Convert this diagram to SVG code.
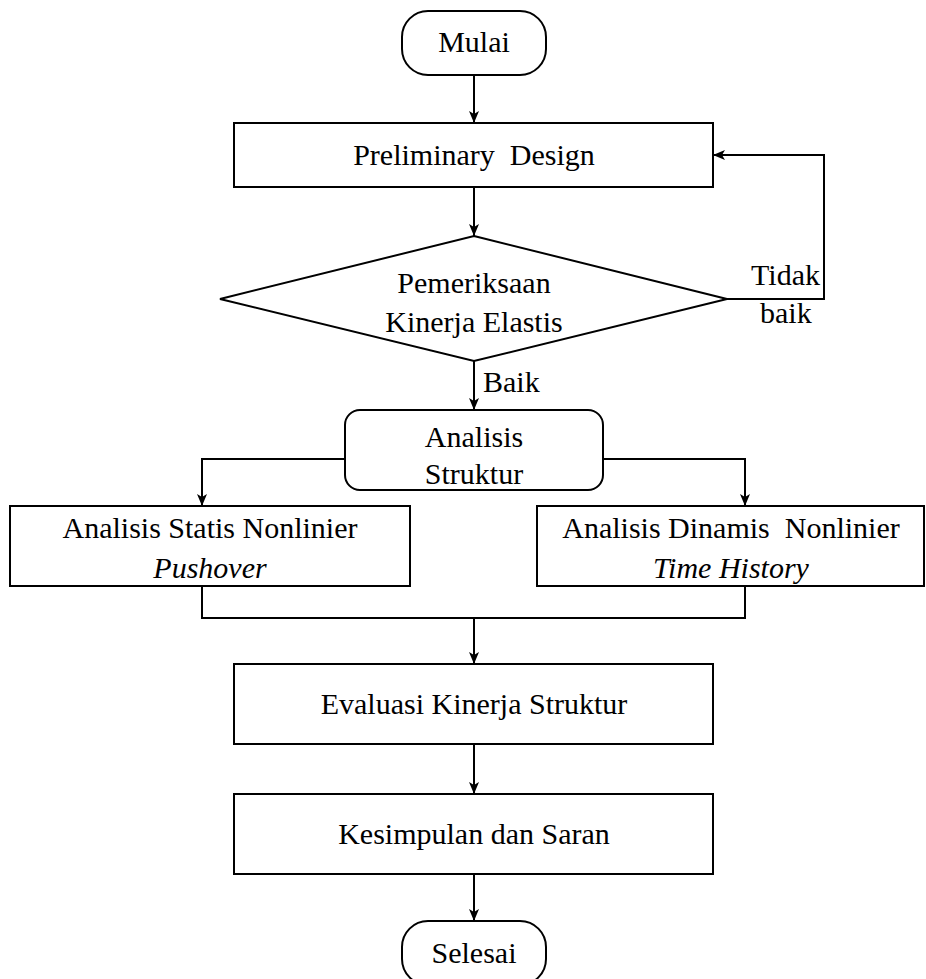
<svg xmlns="http://www.w3.org/2000/svg" width="926" height="979" viewBox="0 0 926 979">
<style>
.s{fill:#fff;stroke:#000;stroke-width:2}
.c{fill:none;stroke:#000;stroke-width:2}
.t{font-family:"Times New Roman","Liberation Serif",Tinos,serif;font-size:30px;fill:#000}
.m{text-anchor:middle}
.i{font-style:italic}
</style>
<defs>
<marker id="a" viewBox="0 0 12 10" refX="12" refY="5" markerWidth="12" markerHeight="10" markerUnits="userSpaceOnUse" orient="auto">
<path d="M0,0 L12,5 L0,10 L3,5 z" fill="#000"/>
</marker>
</defs>
<g id="connectors">
<line class="c" x1="474" y1="75" x2="474" y2="123" marker-end="url(#a)"/>
<line class="c" x1="474" y1="187" x2="474" y2="236" marker-end="url(#a)"/>
<line class="c" x1="474" y1="361" x2="474" y2="410" marker-end="url(#a)"/>
<polyline class="c" points="727,299 824,299 824,155 713,155" marker-end="url(#a)"/>
<polyline class="c" points="345,459 202,459 202,506" marker-end="url(#a)"/>
<polyline class="c" points="603,459 745,459 745,506" marker-end="url(#a)"/>
<polyline class="c" points="202,586 202,618 745,618 745,586"/>
<line class="c" x1="474" y1="618" x2="474" y2="664" marker-end="url(#a)"/>
<line class="c" x1="474" y1="744" x2="474" y2="794" marker-end="url(#a)"/>
<line class="c" x1="474" y1="874" x2="474" y2="921" marker-end="url(#a)"/>
<text class="t" x="483" y="392">Baik</text>
<text class="t" x="820" y="285" text-anchor="end">Tidak</text>
<text class="t" x="760" y="323">baik</text>
</g>
<g id="mulai">
<rect class="s" x="402" y="11" width="144" height="64" rx="26"/>
<text class="t m" x="474" y="52">Mulai</text>
</g>
<g id="preliminary">
<rect class="s" x="234" y="123" width="479" height="64"/>
<text class="t m" x="474" y="165" xml:space="preserve">Preliminary  Design</text>
</g>
<g id="pemeriksaan">
<polygon class="s" points="474,236 727,299 474,361 220,299"/>
<text class="t m" x="474" y="293">Pemeriksaan</text>
<text class="t m" x="474" y="332">Kinerja Elastis</text>
</g>
<g id="analisis">
<rect class="s" x="345" y="410" width="258" height="80" rx="15"/>
<text class="t m" x="474" y="447">Analisis</text>
<text class="t m" x="474" y="484">Struktur</text>
</g>
<g id="statis">
<rect class="s" x="10" y="506" width="400" height="80"/>
<text class="t m" x="210" y="538">Analisis Statis Nonlinier</text>
<text class="t m i" x="210" y="578">Pushover</text>
</g>
<g id="dinamis">
<rect class="s" x="537" y="506" width="387" height="80"/>
<text class="t m" x="731" y="538" xml:space="preserve">Analisis Dinamis  Nonlinier</text>
<text class="t m i" x="731" y="578">Time History</text>
</g>
<g id="evaluasi">
<rect class="s" x="234" y="664" width="479" height="80"/>
<text class="t m" x="474" y="714">Evaluasi Kinerja Struktur</text>
</g>
<g id="kesimpulan">
<rect class="s" x="234" y="794" width="479" height="80"/>
<text class="t m" x="474" y="844">Kesimpulan dan Saran</text>
</g>
<g id="selesai">
<rect class="s" x="402" y="921" width="144" height="64" rx="26"/>
<text class="t m" x="474" y="963">Selesai</text>
</g>
</svg>
